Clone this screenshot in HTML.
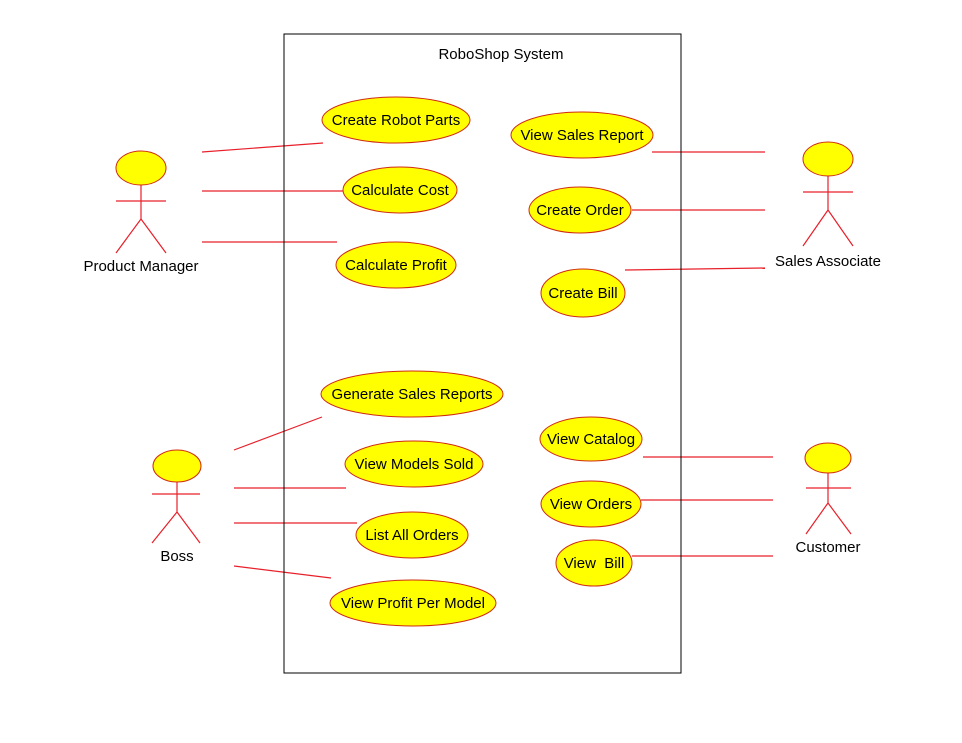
<!DOCTYPE html>
<html><head><meta charset="utf-8"><style>html,body{margin:0;padding:0;background:#fff}svg{display:block}</style></head>
<body>
<svg width="962" height="743" xmlns="http://www.w3.org/2000/svg" font-family="Liberation Sans, sans-serif" font-size="15">
<rect x="0" y="0" width="962" height="743" fill="#fff"/>
<g stroke="#e8202a" stroke-width="1.2" fill="none">
<line x1="202" y1="152" x2="323" y2="143"/>
<line x1="202" y1="191" x2="343" y2="191"/>
<line x1="202" y1="242" x2="337" y2="242"/>
<line x1="652" y1="152" x2="765" y2="152"/>
<line x1="632" y1="210" x2="765" y2="210"/>
<line x1="625" y1="270" x2="765" y2="268"/>
<line x1="234" y1="450" x2="322" y2="417"/>
<line x1="234" y1="488" x2="346" y2="488"/>
<line x1="234" y1="523" x2="357" y2="523"/>
<line x1="234" y1="566" x2="331" y2="578"/>
<line x1="643" y1="457" x2="773" y2="457"/>
<line x1="641" y1="500" x2="773" y2="500"/>
<line x1="632" y1="556" x2="773" y2="556"/>
</g>
<rect x="284" y="34" width="397" height="639" fill="none" stroke="#000" stroke-width="1"/>
<text x="501" y="59" text-anchor="middle">RoboShop System</text>
<g fill="#ffff00" stroke="#d02a10" stroke-width="1">
<ellipse cx="396" cy="120" rx="74" ry="23"/>
<ellipse cx="400" cy="190" rx="57" ry="23"/>
<ellipse cx="396" cy="265" rx="60" ry="23"/>
<ellipse cx="582" cy="135" rx="71" ry="23"/>
<ellipse cx="580" cy="210" rx="51" ry="23"/>
<ellipse cx="583" cy="293" rx="42" ry="24"/>
<ellipse cx="412" cy="394" rx="91" ry="23"/>
<ellipse cx="414" cy="464" rx="69" ry="23"/>
<ellipse cx="412" cy="535" rx="56" ry="23"/>
<ellipse cx="413" cy="603" rx="83" ry="23"/>
<ellipse cx="591" cy="439" rx="51" ry="22"/>
<ellipse cx="591" cy="504" rx="50" ry="23"/>
<ellipse cx="594" cy="563" rx="38" ry="23"/>
<ellipse cx="141" cy="168" rx="25" ry="17"/>
<ellipse cx="828" cy="159" rx="25" ry="17"/>
<ellipse cx="177" cy="466" rx="24" ry="16"/>
<ellipse cx="828" cy="458" rx="23" ry="15"/>
</g>
<g stroke="#e8202a" stroke-width="1.2" fill="none">
<path d="M141 185V219M116 201H166M141 219L116 253M141 219L166 253"/>
<path d="M828 176V210M803 192H853M828 210L803 246M828 210L853 246"/>
<path d="M177 482V512M152 494H200M177 512L152 543M177 512L200 543"/>
<path d="M828 473V503M806 488H851M828 503L806 534M828 503L851 534"/>
</g>
<g text-anchor="middle" fill="#000">
<text x="396" y="125">Create Robot Parts</text>
<text x="400" y="195">Calculate Cost</text>
<text x="396" y="270">Calculate Profit</text>
<text x="582" y="140">View Sales Report</text>
<text x="580" y="215">Create Order</text>
<text x="583" y="298">Create Bill</text>
<text x="412" y="399">Generate Sales Reports</text>
<text x="414" y="469">View Models Sold</text>
<text x="412" y="540">List All Orders</text>
<text x="413" y="608">View Profit Per Model</text>
<text x="591" y="444">View Catalog</text>
<text x="591" y="509">View Orders</text>
<text x="594" y="568" xml:space="preserve">View  Bill</text>
<text x="141" y="271">Product Manager</text>
<text x="828" y="266">Sales Associate</text>
<text x="177" y="561">Boss</text>
<text x="828" y="552">Customer</text>
</g>
</svg>
</body></html>
